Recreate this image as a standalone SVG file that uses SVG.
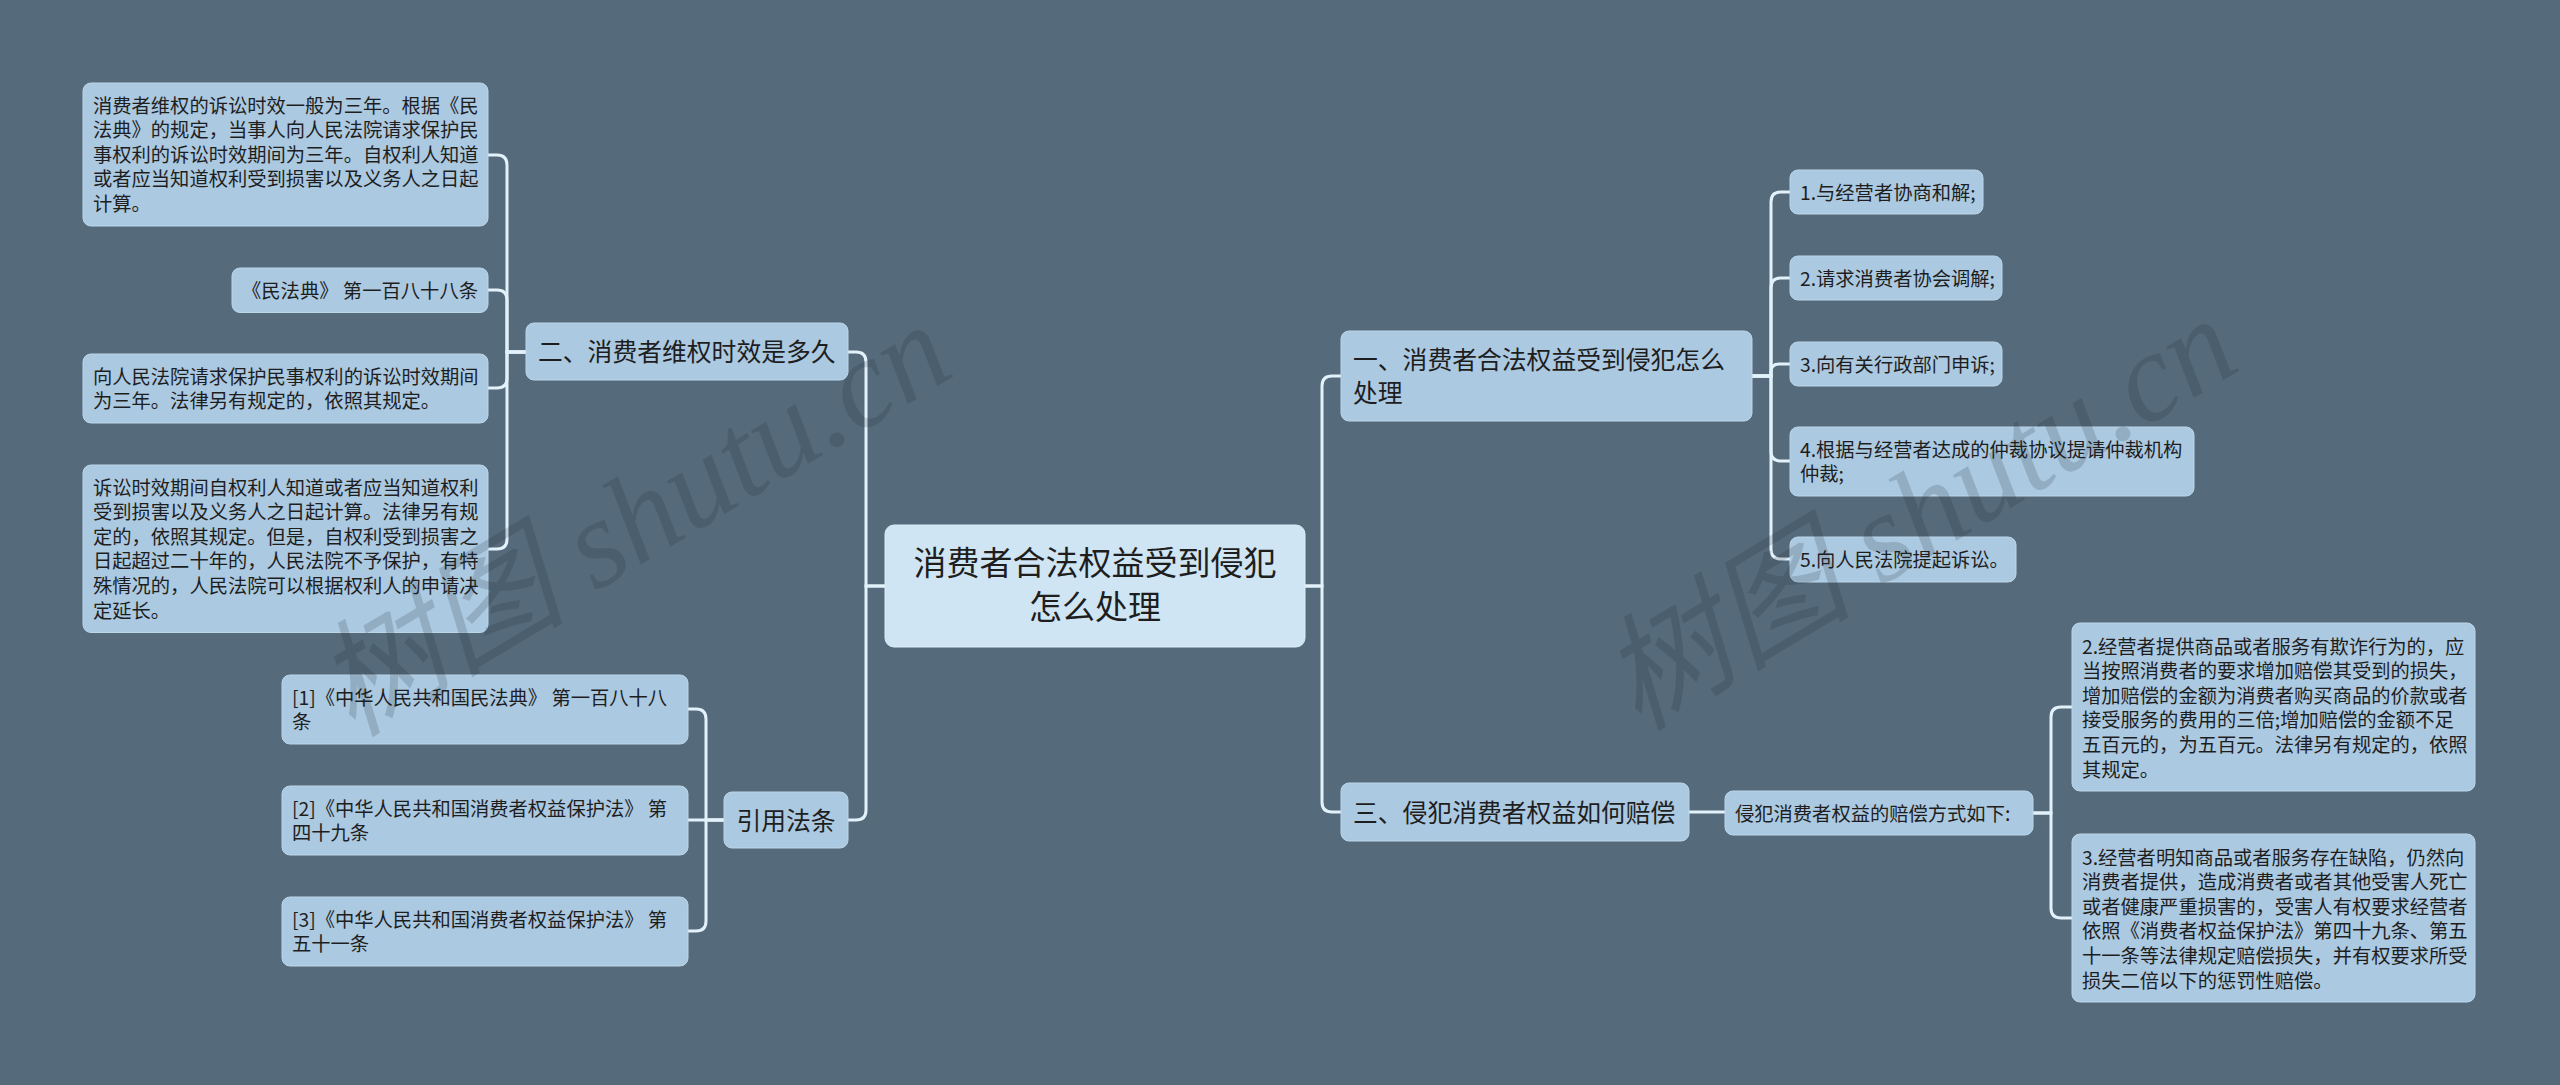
<svg xmlns="http://www.w3.org/2000/svg" width="2560" height="1085" viewBox="0 0 2560 1085">
<style>
.n{fill:#abc9e1;stroke:#bcd6ea;stroke-width:1}
.rt{fill:#cfe5f3;stroke:#dbeef8;stroke-width:1}
text{font-family:"Noto Sans CJK SC","Noto Sans",sans-serif;fill:#1e1e1e}
.s{font-size:19.3px}
.b{font-size:24.8px}
.r{font-size:33px}
.c{fill:none;stroke:#e2f1fa;stroke-width:3;stroke-linecap:round}
.wm{font-family:"Liberation Serif","Noto Sans CJK SC",serif;font-size:126px;font-style:italic;fill:#1b2630;opacity:0.17}
</style>
<rect x="0" y="0" width="2560" height="1085" fill="#556a7a"/>
<g id="connectors">
<path class="c" d="M885,586 H866 V362 Q866,352 856,352 H848"/>
<path class="c" d="M885,586 H866 V810 Q866,820 856,820 H848"/>
<path class="c" d="M1305,586 H1322 V386 Q1322,376 1332,376 H1341"/>
<path class="c" d="M1305,586 H1322 V802 Q1322,812 1332,812 H1341"/>
<path class="c" d="M526,352 H507 V165 Q507,155 497,155 H488"/>
<path class="c" d="M526,352 H507 V300 Q507,290 497,290 H488"/>
<path class="c" d="M526,352 H507 V378 Q507,388 497,388 H488"/>
<path class="c" d="M526,352 H507 V539 Q507,549 497,549 H488"/>
<path class="c" d="M724,820 H706 V719 Q706,709 696,709 H688"/>
<path class="c" d="M724,820 H688"/>
<path class="c" d="M724,820 H706 V921 Q706,931 696,931 H688"/>
<path class="c" d="M1752,376 H1771 V202 Q1771,192 1781,192 H1790"/>
<path class="c" d="M1752,376 H1771 V288 Q1771,278 1781,278 H1790"/>
<path class="c" d="M1752,376 H1771 V372 Q1771,364 1779,364 H1790"/>
<path class="c" d="M1752,376 H1771 V451 Q1771,461 1781,461 H1790"/>
<path class="c" d="M1752,376 H1771 V549 Q1771,559 1781,559 H1790"/>
<path class="c" d="M1689,812 H1725"/>
<path class="c" d="M2033,813 H2051 V717 Q2051,707 2061,707 H2072"/>
<path class="c" d="M2033,813 H2051 V908 Q2051,918 2061,918 H2072"/>
</g>
<g id="root">
<rect class="rt" x="885" y="525" width="420" height="122" rx="9"/>
<text class="r" x="1095" y="575" text-anchor="middle">消费者合法权益受到侵犯</text>
<text class="r" x="1095" y="619" text-anchor="middle">怎么处理</text>
</g>
<g id="branch2">
<rect class="n" x="526" y="323" width="322" height="57" rx="8"/>
<text class="b" x="538" y="361">二、消费者维权时效是多久</text>
</g>
<g id="leafA">
<rect class="n" x="83" y="83" width="405" height="143" rx="8"/>
<text class="s" x="93" y="112.5">消费者维权的诉讼时效一般为三年。根据《民</text>
<text class="s" x="93" y="137.1">法典》的规定，当事人向人民法院请求保护民</text>
<text class="s" x="93" y="161.7">事权利的诉讼时效期间为三年。自权利人知道</text>
<text class="s" x="93" y="186.3">或者应当知道权利受到损害以及义务人之日起</text>
<text class="s" x="93" y="210.9">计算。</text>
</g>
<g id="leafB">
<rect class="n" x="232" y="268" width="256" height="44.5" rx="8"/>
<text class="s" x="242" y="297.5" textLength="236" lengthAdjust="spacingAndGlyphs">《民法典》 第一百八十八条</text>
</g>
<g id="leafC">
<rect class="n" x="83" y="354" width="405" height="69" rx="8"/>
<text class="s" x="93" y="383.5">向人民法院请求保护民事权利的诉讼时效期间</text>
<text class="s" x="93" y="408.1">为三年。法律另有规定的，依照其规定。</text>
</g>
<g id="leafD">
<rect class="n" x="83" y="465" width="405" height="167.5" rx="8"/>
<text class="s" x="93" y="494.5">诉讼时效期间自权利人知道或者应当知道权利</text>
<text class="s" x="93" y="519.1">受到损害以及义务人之日起计算。法律另有规</text>
<text class="s" x="93" y="543.7">定的，依照其规定。但是，自权利受到损害之</text>
<text class="s" x="93" y="568.3">日起超过二十年的，人民法院不予保护，有特</text>
<text class="s" x="93" y="592.9">殊情况的，人民法院可以根据权利人的申请决</text>
<text class="s" x="93" y="617.5">定延长。</text>
</g>
<g id="branchRef">
<rect class="n" x="724" y="792" width="124" height="56" rx="8"/>
<text class="b" x="786" y="829.5" text-anchor="middle">引用法条</text>
</g>
<g id="ref1">
<rect class="n" x="282" y="675" width="406" height="69" rx="8"/>
<text class="s" x="292" y="704.5">[1]《中华人民共和国民法典》 第一百八十八</text>
<text class="s" x="292" y="729.1">条</text>
</g>
<g id="ref2">
<rect class="n" x="282" y="786" width="406" height="69" rx="8"/>
<text class="s" x="292" y="815.5">[2]《中华人民共和国消费者权益保护法》 第</text>
<text class="s" x="292" y="840.1">四十九条</text>
</g>
<g id="ref3">
<rect class="n" x="282" y="897" width="406" height="69" rx="8"/>
<text class="s" x="292" y="926.5">[3]《中华人民共和国消费者权益保护法》 第</text>
<text class="s" x="292" y="951.1">五十一条</text>
</g>
<g id="branch1">
<rect class="n" x="1341" y="331" width="411" height="90" rx="8"/>
<text class="b" x="1353" y="369">一、消费者合法权益受到侵犯怎么</text>
<text class="b" x="1353" y="402">处理</text>
</g>
<g id="r1">
<rect class="n" x="1790" y="170" width="193" height="44" rx="8"/>
<text class="s" x="1800" y="199.5">1.与经营者协商和解;</text>
</g>
<g id="r2">
<rect class="n" x="1790" y="256" width="212" height="44" rx="8"/>
<text class="s" x="1800" y="285.5">2.请求消费者协会调解;</text>
</g>
<g id="r3">
<rect class="n" x="1790" y="342" width="212" height="44" rx="8"/>
<text class="s" x="1800" y="371.5">3.向有关行政部门申诉;</text>
</g>
<g id="r4">
<rect class="n" x="1790" y="427" width="404" height="69" rx="8"/>
<text class="s" x="1800" y="456.5">4.根据与经营者达成的仲裁协议提请仲裁机构</text>
<text class="s" x="1800" y="481.1">仲裁;</text>
</g>
<g id="r5">
<rect class="n" x="1790" y="537" width="226" height="45" rx="8"/>
<text class="s" x="1800" y="566.5">5.向人民法院提起诉讼。</text>
</g>
<g id="branch3">
<rect class="n" x="1341" y="783" width="348" height="58" rx="8"/>
<text class="b" x="1353" y="821.5">三、侵犯消费者权益如何赔偿</text>
</g>
<g id="mid">
<rect class="n" x="1725" y="791" width="308" height="44" rx="8"/>
<text class="s" x="1735" y="820.5">侵犯消费者权益的赔偿方式如下:</text>
</g>
<g id="leaf2">
<rect class="n" x="2072" y="623" width="403" height="168" rx="8"/>
<text class="s" x="2082" y="653.5">2.经营者提供商品或者服务有欺诈行为的，应</text>
<text class="s" x="2082" y="678.1">当按照消费者的要求增加赔偿其受到的损失，</text>
<text class="s" x="2082" y="702.7">增加赔偿的金额为消费者购买商品的价款或者</text>
<text class="s" x="2082" y="727.3">接受服务的费用的三倍;增加赔偿的金额不足</text>
<text class="s" x="2082" y="751.9">五百元的，为五百元。法律另有规定的，依照</text>
<text class="s" x="2082" y="776.5">其规定。</text>
</g>
<g id="leaf3">
<rect class="n" x="2072" y="834" width="403" height="168" rx="8"/>
<text class="s" x="2082" y="864.5">3.经营者明知商品或者服务存在缺陷，仍然向</text>
<text class="s" x="2082" y="889.1">消费者提供，造成消费者或者其他受害人死亡</text>
<text class="s" x="2082" y="913.7">或者健康严重损害的，受害人有权要求经营者</text>
<text class="s" x="2082" y="938.3">依照《消费者权益保护法》第四十九条、第五</text>
<text class="s" x="2082" y="962.9">十一条等法律规定赔偿损失，并有权要求所受</text>
<text class="s" x="2082" y="987.5">损失二倍以下的惩罚性赔偿。</text>
</g>
<g id="watermarks">
<text class="wm" x="352" y="738" transform="rotate(-31 352 738)">树图 shutu.cn</text>
<text class="wm" x="1638" y="732" transform="rotate(-31 1638 732)">树图 shutu.cn</text>
</g>
</svg>
